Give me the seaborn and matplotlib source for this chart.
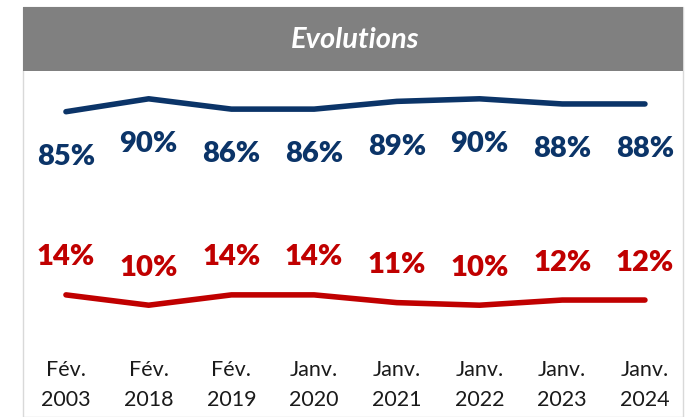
import matplotlib
matplotlib.use("Agg")
import matplotlib.pyplot as plt
import seaborn as sns
import pandas as pd
from matplotlib.patches import Rectangle

# data
periods = ["Fév.\n2003", "Fév.\n2018", "Fév.\n2019", "Janv.\n2020",
           "Janv.\n2021", "Janv.\n2022", "Janv.\n2023", "Janv.\n2024"]
blue_vals = [85, 90, 86, 86, 89, 90, 88, 88]
red_vals = [14, 10, 14, 14, 11, 10, 12, 12]

BLUE = "#0B3468"
RED = "#C00000"

sns.set_style("white")
plt.rcParams['font.family'] = ['Lato', 'DejaVu Sans']

df = pd.DataFrame({"pos": range(len(periods)), "blue": blue_vals, "red": red_vals})

fig = plt.figure(figsize=(6.91, 4.17), dpi=100)

# panel frame + grey header band (behind the axes)
fig.patches.append(Rectangle((23/691, 0), 660/691, 410/417, transform=fig.transFigure,
                             facecolor="white", edgecolor="#D9D9D9", lw=1, zorder=-2))
fig.patches.append(Rectangle((23/691, (417-71)/417), 660/691, 64/417, transform=fig.transFigure,
                             facecolor="#808080", edgecolor="none", zorder=-1))
fig.text(355/691, (417-40)/417, "Evolutions", color="white", fontsize=21,
         fontweight="bold", style="italic", ha="center", va="center")

ax = fig.add_axes([24.6/691, 86/417, 661.7/691, 258/417])
ax.patch.set_alpha(0)

sns.lineplot(data=df, x="pos", y="blue", ax=ax, color=BLUE, lw=4, solid_capstyle="round")
sns.lineplot(data=df, x="pos", y="red", ax=ax, color=RED, lw=4, solid_capstyle="round")

for i, (b, r) in enumerate(zip(blue_vals, red_vals)):
    ax.annotate(f"{b}%", (i, b), xytext=(0, -32.5), textcoords="offset points",
                ha="center", va="center", color=BLUE, fontsize=21, fontweight="heavy")
    ax.annotate(f"{r}%", (i, r), xytext=(0, 27), textcoords="offset points",
                ha="center", va="center", color=RED, fontsize=21, fontweight="heavy")

ax.set_xlim(-0.5, 7.5)
ax.set_ylim(0, 100)
ax.set_xticks(range(len(periods)))
ax.set_xticklabels(periods, fontsize=15.5, color="#1a1a1a", linespacing=1.6)
ax.tick_params(axis="x", length=0, pad=21)
ax.set_yticks([])
ax.set_xlabel("")
ax.set_ylabel("")
sns.despine(ax=ax, left=True, bottom=True)

fig.savefig("out.png", dpi=100)
